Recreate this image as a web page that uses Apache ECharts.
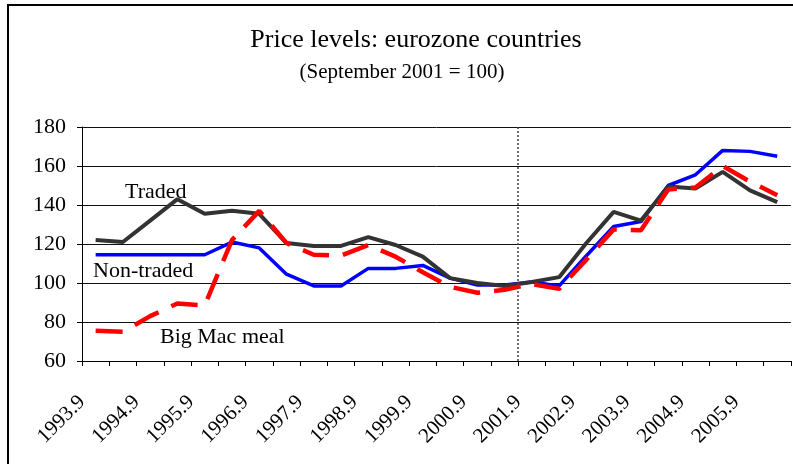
<!DOCTYPE html>
<html>
<head>
<meta charset="utf-8">
<script src="https://cdn.jsdelivr.net/npm/echarts@6/dist/echarts.min.js"></script>
<style>
  html, body { margin: 0; padding: 0; background: #fff; }
  #chart { width: 793px; height: 464px; }
</style>
</head>
<body>
<div id="chart"></div>
<script>
// half-year observations, September and March
const categories = [
  '1993.9', '1994.3', '1994.9', '1995.3', '1995.9', '1996.3', '1996.9', '1997.3',
  '1997.9', '1998.3', '1998.9', '1999.3', '1999.9', '2000.3', '2000.9', '2001.3',
  '2001.9', '2002.3', '2002.9', '2003.3', '2003.9', '2004.3', '2004.9', '2005.3',
  '2005.9', '2006.3'
];

// labels sit on the tick marks, one every two ticks
const tickLabels = [
  '1993.9', '1994.9', '1995.9', '1996.9', '1997.9', '1998.9', '1999.9',
  '2000.9', '2001.9', '2002.9', '2003.9', '2004.9', '2005.9'
];

const traded = [
  122, 121, 132, 143, 135.5, 137, 135.5, 120.5, 119, 119, 123.5, 119.5, 113.5,
  102.5, 100, 98.5, 100.5, 103, 120.5, 136.5, 132, 149.5, 148.5, 157, 147.5, 141.5
];

const nonTraded = [
  114.5, 114.5, 114.5, 114.5, 114.5, 121, 118, 104.5, 98.5, 98.5, 107.5, 107.5, 109,
  102.5, 99, 99, 100.5, 98.5, 114, 129, 131.5, 150, 155.5, 168, 167.5, 165
];

const bigMac = [
  75.5, 75, 83, 89.5, 88.5, 122, 137, 120.5, 114.5, 114, 119.5, 113.5, 105.5,
  98, 95, 96.5, 99.5, 97, 112, 127.5, 127, 148, 149, 160, 152, 145
];

const baseTick = 16; // September 2001 = 100
const serif = 'Liberation Serif';

const chart = echarts.init(document.getElementById('chart'), null, { renderer: 'canvas' });

chart.setOption({
  animation: false,
  backgroundColor: '#fff',
  textStyle: { fontFamily: serif, color: '#000' },
  title: [
    {
      text: 'Price levels: eurozone countries',
      left: 411, top: 22, textAlign: 'center',
      textStyle: { fontFamily: serif, fontSize: 26, fontWeight: 'normal', color: '#000' }
    },
    {
      text: '(September 2001 = 100)',
      left: 397, top: 57, textAlign: 'center',
      textStyle: { fontFamily: serif, fontSize: 21, fontWeight: 'normal', color: '#000' }
    }
  ],
  grid: { left: 82, right: 0, top: 127, bottom: 103, containLabel: false },
  xAxis: [
    {
      type: 'category',
      data: categories,
      boundaryGap: true,
      axisLine: { lineStyle: { color: '#000', width: 1 } },
      axisTick: { show: true, length: 5, interval: 0, lineStyle: { color: '#000' } },
      axisLabel: { show: false },
      splitLine: { show: false }
    },
    {
      type: 'value',
      position: 'bottom',
      min: 0, max: categories.length, interval: 1,
      axisLine: { show: false },
      axisTick: { show: false },
      splitLine: { show: false },
      axisLabel: {
        rotate: 45,
        margin: 38,
        fontFamily: serif,
        fontSize: 21,
        color: '#000',
        showMaxLabel: true,
        formatter: v => (v % 2 === 0 && tickLabels[v / 2]) ? tickLabels[v / 2] : ''
      }
    }
  ],
  yAxis: {
    type: 'value',
    min: 60, max: 180, interval: 20,
    axisLine: { show: true, lineStyle: { color: '#000', width: 1 } },
    axisTick: { show: true, length: 5, lineStyle: { color: '#000' } },
    axisLabel: { margin: 16, fontFamily: serif, fontSize: 22, color: '#000' },
    splitLine: { show: true, lineStyle: { color: '#111', width: 1 } }
  },
  series: [
    {
      name: 'Non-traded', type: 'line', data: nonTraded,
      showSymbol: false, symbol: 'none',
      lineStyle: { color: '#0000ff', width: 3.5 }
    },
    {
      name: 'Traded', type: 'line', data: traded,
      showSymbol: false, symbol: 'none',
      lineStyle: { color: '#333333', width: 4 }
    },
    {
      name: 'Big Mac meal', type: 'line', data: bigMac,
      showSymbol: false, symbol: 'none',
      lineStyle: { color: '#ff0000', width: 4.5, type: [27, 14] }
    },
    {
      // holds the dotted reference line on the tick axis
      type: 'line', xAxisIndex: 1, data: [],
      markLine: {
        silent: true, symbol: 'none', label: { show: false },
        lineStyle: { color: '#444', width: 1.5, type: [2, 2] },
        data: [{ xAxis: baseTick }]
      }
    }
  ],
  graphic: [
    {
      type: 'rect', silent: true, z: -1,
      shape: { x: 8, y: 5, width: 820, height: 500 },
      style: { fill: 'none', stroke: '#000', lineWidth: 2 }
    },
    {
      type: 'text', left: 125, top: 181,
      style: { text: 'Traded', font: '22px Liberation Serif', fill: '#000' }
    },
    {
      type: 'text', left: 93, top: 260,
      style: { text: 'Non-traded', font: '22px Liberation Serif', fill: '#000' }
    },
    {
      type: 'text', left: 160, top: 326,
      style: { text: 'Big Mac meal', font: '22px Liberation Serif', fill: '#000' }
    }
  ]
});
</script>
</body>
</html>
